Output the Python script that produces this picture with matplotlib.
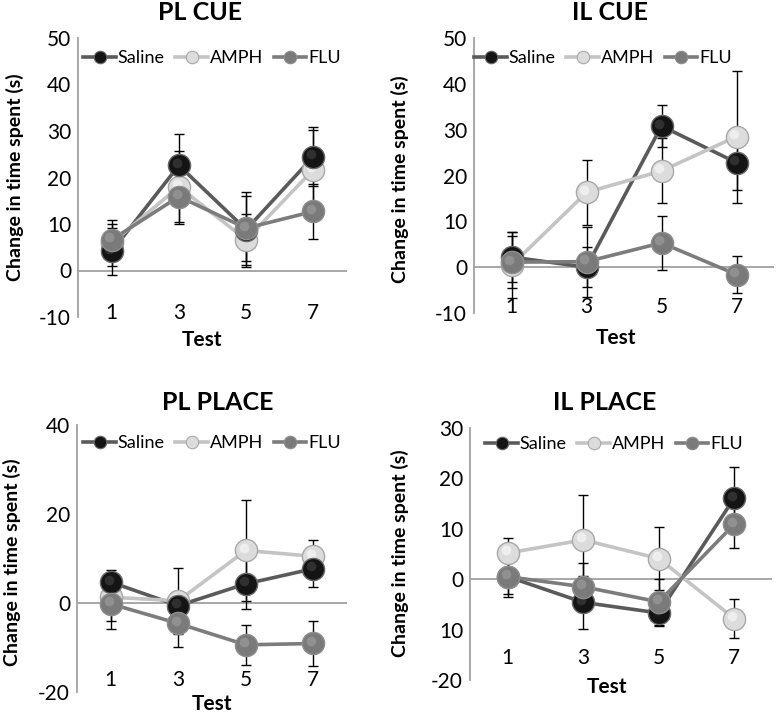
import matplotlib
matplotlib.use("Agg")
import matplotlib.pyplot as plt
import matplotlib.transforms as mtransforms
import numpy as np

plt.rcParams['font.family'] = ['Lato', 'DejaVu Sans']

tests = ["1", "3", "5", "7"]
groups = ["Saline", "AMPH", "FLU"]

# PL CUE
pl_cue_saline = [4.1, 22.6, 8.8, 24.5]
pl_cue_amph = [5.9, 18.0, 6.6, 21.7]
pl_cue_flu = [6.6, 15.9, 9.1, 12.7]
pl_cue_saline_err = [5.0, 6.7, 8.0, 6.3]
pl_cue_amph_err = [5.0, 7.6, 5.5, 8.6]
pl_cue_flu_err = [3.5, 5.9, 7.0, 5.9]

# IL CUE
il_cue_saline = [2.2, 0.0, 30.8, 22.8]
il_cue_amph = [0.4, 16.3, 21.0, 28.5]
il_cue_flu = [1.1, 1.2, 5.3, -1.6]
il_cue_saline_err = [5.5, 4.4, 4.6, 5.9]
il_cue_amph_err = [7.2, 7.1, 7.1, 14.4]
il_cue_flu_err = [5.6, 7.6, 5.9, 4.0]

# PL PLACE
pl_place_saline = [4.7, -0.6, 4.3, 7.7]
pl_place_amph = [1.3, 0.5, 11.8, 10.5]
pl_place_flu = [-0.2, -4.6, -9.4, -9.1]
pl_place_saline_err = [2.7, 3.0, 5.7, 4.2]
pl_place_amph_err = [5.3, 7.4, 11.4, 3.7]
pl_place_flu_err = [5.7, 5.2, 4.5, 5.0]

# IL PLACE
il_place_saline = [0.5, -4.6, -6.7, 16.1]
il_place_amph = [5.2, 7.8, 4.1, -7.8]
il_place_flu = [0.5, -1.5, -4.5, 10.9]
il_place_saline_err = [4.1, 5.2, 2.6, 6.1]
il_place_amph_err = [2.9, 8.9, 6.2, 3.8]
il_place_flu_err = [3.5, 4.8, 4.6, 4.8]

line_colors = {"Saline": "#5a5a5a", "AMPH": "#c4c4c4", "FLU": "#7c7c7c"}
face_colors = {"Saline": "#141414", "AMPH": "#dcdcdc", "FLU": "#7a7a7a"}
edge_colors = {"Saline": "#6a6a6a", "AMPH": "#a8a8a8", "FLU": "#8e8e8e"}
hi_colors = {"Saline": "#3c3c3c", "AMPH": "#f6f6f6", "FLU": "#9a9a9a"}

W, H = 777, 715
fig = plt.figure(figsize=(W / 100, H / 100), dpi=100)


def rect(l, r, t, b):
    return [l / W, (H - b) / H, (r - l) / W, (b - t) / H]


panels = [
    dict(title="PL CUE", rect=rect(78, 347, 38, 317), ylim=(-10, 50), yt=[-10, 0, 10, 20, 30, 40, 50],
         ytl=["-10", "0", "10", "20", "30", "40", "50"],
         data=(pl_cue_saline, pl_cue_amph, pl_cue_flu),
         err=(pl_cue_saline_err, pl_cue_amph_err, pl_cue_flu_err),
         tpos=(200, 13), xtpad=-3, testy=340, testx=202, ylab=(15, 177), leg=(212, 58)),
    dict(title="IL CUE", rect=rect(474, 774, 38, 313), ylim=(-10, 50), yt=[-10, 0, 10, 20, 30, 40, 50],
         ytl=["-10", "0", "10", "20", "30", "40", "50"],
         data=(il_cue_saline, il_cue_amph, il_cue_flu),
         err=(il_cue_saline_err, il_cue_amph_err, il_cue_flu_err),
         tpos=(610, 13), xtpad=-4, testy=338, testx=616, ylab=(400, 179), leg=(603, 58)),
    dict(title="PL PLACE", rect=rect(77, 347, 425, 692), ylim=(-20, 40), yt=[-20, 0, 20, 40],
         ytl=["-20", "0", "20", "40"],
         data=(pl_place_saline, pl_place_amph, pl_place_flu),
         err=(pl_place_saline_err, pl_place_amph_err, pl_place_flu_err),
         tpos=(218, 402), xtpad=-9, testy=704, testx=212, ylab=(12, 562), leg=(212, 443)),
    dict(title="IL PLACE", rect=rect(470, 772, 428, 680), ylim=(-20, 30), yt=[-20, -10, 0, 10, 20, 30],
         ytl=["-20", "10", "0", "10", "20", "30"],
         data=(il_place_saline, il_place_amph, il_place_flu),
         err=(il_place_saline_err, il_place_amph_err, il_place_flu_err),
         tpos=(605, 402), xtpad=-16, testy=687, testx=607, ylab=(400, 553), leg=(614, 444)),
]

x = np.arange(len(tests))

for p in panels:
    ax = fig.add_axes(p["rect"])
    ax.set_xlim(-0.5, len(tests) - 0.5)
    ax.set_ylim(*p["ylim"])
    for s in ["top", "right", "bottom"]:
        ax.spines[s].set_visible(False)
    ax.spines["left"].set_color("#a0a0a0")
    ax.spines["left"].set_linewidth(1.3)
    ax.axhline(0, color="#a0a0a0", lw=1.3, zorder=1)
    ax.set_yticks(p["yt"])
    ax.set_yticklabels(p["ytl"])
    ax.tick_params(axis="y", length=0, labelsize=15, pad=5)
    ax.set_xticks(x)
    ax.set_xticklabels(tests)
    ax.tick_params(axis="x", length=0, labelsize=15, pad=p["xtpad"])
    for lbl in ax.get_xticklabels():
        lbl.set_va("center")

    handles = []
    offset = mtransforms.ScaledTranslation(-1.6 / 72, 1.8 / 72, fig.dpi_scale_trans)
    for g, vals, errs, z in zip(groups, p["data"], p["err"], [5, 4, 6]):
        ax.errorbar(x, vals, yerr=errs, fmt="none", ecolor="black", elinewidth=1.0,
                    capsize=3.8, capthick=1.0, zorder=2)
        ax.plot(x, vals, color=line_colors[g], lw=2.6, zorder=3, solid_capstyle="butt")
        ax.plot(x, vals, ls="none", marker="o", ms=16, mfc=face_colors[g],
                mec=edge_colors[g], mew=1.0, zorder=z + 3)
        ax.plot(x, vals, ls="none", marker="o", ms=7, mfc=hi_colors[g], mec="none",
                alpha=0.7, zorder=z + 3.1, transform=ax.transData + offset)
        h, = ax.plot([], [], color=line_colors[g], lw=2.6, marker="o", ms=9,
                     mfc=face_colors[g], mec=edge_colors[g], mew=0.8, label=g)
        handles.append(h)

    ax.legend(handles=handles, loc="center", ncol=3, frameon=False, fontsize=13,
              bbox_to_anchor=(p["leg"][0] / W, (H - p["leg"][1]) / H), bbox_transform=fig.transFigure,
              handlelength=1.8, handletextpad=0.1, columnspacing=0.6, borderaxespad=0,
              borderpad=0)

    fig.text(p["tpos"][0] / W, 1 - p["tpos"][1] / H, p["title"], ha="center", va="center",
             fontsize=18, fontweight="bold")
    fig.text(p["testx"] / W, 1 - p["testy"] / H, "Test", ha="center", va="center",
             fontsize=15, fontweight="bold")
    fig.text(p["ylab"][0] / W, 1 - p["ylab"][1] / H, "Change in time spent (s)", ha="center",
             va="center", rotation=90, fontsize=14, fontweight="bold")

fig.savefig("out.png", dpi=100, facecolor="white")
